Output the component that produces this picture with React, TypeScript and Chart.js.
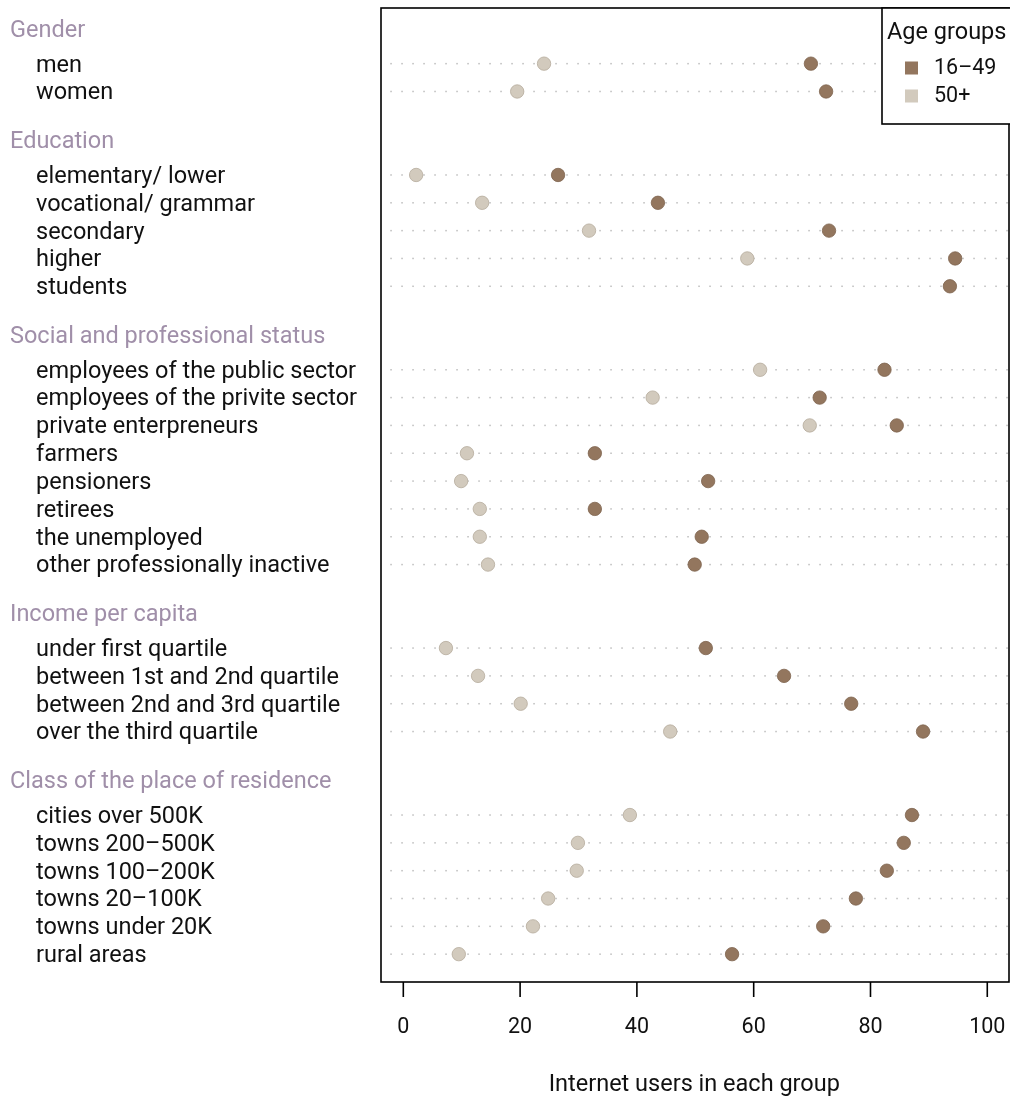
import React, { useEffect, useRef } from "react";
import { Chart, registerables } from "chart.js";

Chart.register(...registerables);

const groupNames = [
  "Gender",
  "Education",
  "Social and professional status",
  "Income per capita",
  "Class of the place of residence",
];

const categories = [
  "men",
  "women",
  "elementary/ lower",
  "vocational/ grammar",
  "secondary",
  "higher",
  "students",
  "employees of the public sector",
  "employees of the privite sector",
  "private enterpreneurs",
  "farmers",
  "pensioners",
  "retirees",
  "the unemployed",
  "other professionally inactive",
  "under first quartile",
  "between 1st and 2nd quartile",
  "between 2nd and 3rd quartile",
  "over the third quartile",
  "cities over 500K",
  "towns 200–500K",
  "towns 100–200K",
  "towns 20–100K",
  "towns under 20K",
  "rural areas",
];

const categoryGroup = [0, 0, 1, 1, 1, 1, 1, 2, 2, 2, 2, 2, 2, 2, 2, 3, 3, 3, 3, 4, 4, 4, 4, 4, 4];

const age16to49 = [
  69.8, 72.4,
  26.5, 43.6, 72.9, 94.5, 93.6,
  82.4, 71.3, 84.5, 32.8, 52.2, 32.8, 51.1, 49.9,
  51.8, 65.2, 76.7, 89.0,
  87.1, 85.7, 82.8, 77.5, 71.9, 56.3,
];

const age50plus: (number | null)[] = [
  24.1, 19.5,
  2.2, 13.5, 31.8, 58.9, null,
  61.1, 42.7, 69.6, 10.9, 9.9, 13.1, 13.1, 14.5,
  7.3, 12.8, 20.1, 45.7,
  38.8, 29.9, 29.7, 24.8, 22.2, 9.5,
];

const seriesNames = ["16–49", "50+"];
const xTicks = [0, 20, 40, 60, 80, 100];
const legendTitle = "Age groups";
const xTitle = "Internet users in each group";

const COLOR_YOUNG = "#93765e";
const COLOR_OLD = "#d2cabd";
const HEADER_COLOR = "#a08fa9";
const FONT = "Roboto";
const TEXT_FONT = `23.5px ${FONT}`;
const NUM_FONT = `21.5px ${FONT}`;

type Row = { kind: "header" | "item" | "blank"; text: string; idx: number };

function buildRows(): Row[] {
  const rows: Row[] = [];
  let last = -1;
  categories.forEach((c, i) => {
    const g = categoryGroup[i];
    if (g !== last) {
      if (last !== -1) rows.push({ kind: "blank", text: "", idx: -1 });
      rows.push({ kind: "header", text: groupNames[g], idx: -1 });
      last = g;
    }
    rows.push({ kind: "item", text: c, idx: i });
  });
  return rows;
}

export default function App() {
  const ref = useRef<HTMLCanvasElement | null>(null);

  useEffect(() => {
    if (!ref.current) return;
    const rows = buildRows();
    const youngData: { x: number; y: number }[] = [];
    const oldData: { x: number; y: number }[] = [];
    rows.forEach((r, ri) => {
      if (r.kind !== "item") return;
      youngData.push({ x: age16to49[r.idx], y: ri });
      const o = age50plus[r.idx];
      if (o !== null) oldData.push({ x: o, y: ri });
    });

    const decor = {
      id: "decor",
      beforeDatasetsDraw(chart: any) {
        const { ctx, chartArea, scales } = chart;
        const xs = scales.x;
        const ys = scales.y;
        ctx.save();
        ctx.fillStyle = "#bdbdbd";
        const start = xs.getPixelForValue(-2.1);
        rows.forEach((r, ri) => {
          if (r.kind !== "item") return;
          const y = ys.getPixelForValue(ri);
          for (let x = start; x < chartArea.right - 1; x += 11) {
            ctx.fillRect(x - 0.75, y - 0.75, 1.5, 1.5);
          }
        });
        ctx.restore();
      },
      afterDraw(chart: any) {
        const { ctx, chartArea, scales } = chart;
        const xs = scales.x;
        const ys = scales.y;
        ctx.save();
        // box
        ctx.strokeStyle = "#000";
        ctx.lineWidth = 1.6;
        ctx.strokeRect(chartArea.left, chartArea.top, chartArea.right - chartArea.left, chartArea.bottom - chartArea.top);
        // x ticks
        ctx.fillStyle = "#111";
        ctx.font = NUM_FONT;
        ctx.textAlign = "center";
        ctx.textBaseline = "middle";
        xTicks.forEach((t) => {
          const x = xs.getPixelForValue(t);
          ctx.beginPath();
          ctx.moveTo(x, chartArea.bottom);
          ctx.lineTo(x, chartArea.bottom + 15);
          ctx.stroke();
          ctx.fillText(String(t), x, chartArea.bottom + 46);
        });
        ctx.font = TEXT_FONT;
        ctx.fillText(xTitle, (xs.getPixelForValue(0) + xs.getPixelForValue(100)) / 2 - 1, chartArea.bottom + 103);
        // row labels
        ctx.textAlign = "left";
        rows.forEach((r, ri) => {
          const y = ys.getPixelForValue(ri);
          if (r.kind === "header") {
            ctx.fillStyle = HEADER_COLOR;
            ctx.fillText(r.text, 10, y - 5);
          } else if (r.kind === "item") {
            ctx.fillStyle = "#111";
            ctx.fillText(r.text, 36, y + 2);
          }
        });
        // legend
        const lx = 882;
        const ly = chartArea.top;
        ctx.fillStyle = "#fff";
        ctx.fillRect(lx, ly, 130, 116);
        ctx.strokeStyle = "#000";
        ctx.lineWidth = 1.6;
        ctx.strokeRect(lx, ly, 130, 116);
        ctx.fillStyle = "#111";
        ctx.fillText(legendTitle, lx + 5, ly + 25);
        ctx.font = NUM_FONT;
        const cols = [COLOR_YOUNG, COLOR_OLD];
        seriesNames.forEach((s, i) => {
          const cy = ly + 59 + i * 28;
          ctx.fillStyle = cols[i];
          ctx.fillRect(lx + 23, cy - 5.5, 13, 13);
          ctx.fillStyle = "#111";
          ctx.fillText(s, lx + 52, cy + 2);
        });
        ctx.restore();
      },
    };

    const chart = new Chart(ref.current, {
      type: "scatter",
      data: {
        datasets: [
          {
            label: seriesNames[1],
            data: oldData,
            backgroundColor: COLOR_OLD,
            borderColor: "#b5ab9c",
            borderWidth: 0.8,
            pointRadius: 6.7,
            pointHoverRadius: 6.7,
          },
          {
            label: seriesNames[0],
            data: youngData,
            backgroundColor: COLOR_YOUNG,
            borderColor: "#7d634e",
            borderWidth: 0.8,
            pointRadius: 6.7,
            pointHoverRadius: 6.7,
          },
        ],
      },
      options: {
        responsive: false,
        animation: false,
        layout: { autoPadding: false, padding: { left: 381, top: 8, right: 1, bottom: 115 } },
        plugins: { legend: { display: false }, tooltip: { enabled: false }, title: { display: false } },
        scales: {
          x: { type: "linear", display: false, min: -3.82, max: 103.72 },
          y: { type: "linear", display: false, min: -1, max: 34, reverse: true },
        },
      },
      plugins: [decor],
    });
    return () => chart.destroy();
  }, []);

  return (
    <div style={{ position: "absolute", left: 0, top: 0, width: 1010, height: 1097 }}>
      <canvas ref={ref} width={1010} height={1097} style={{ width: 1010, height: 1097, display: "block" }} />
    </div>
  );
}
